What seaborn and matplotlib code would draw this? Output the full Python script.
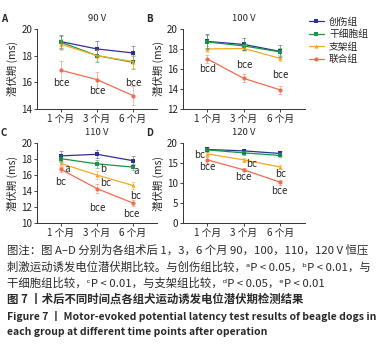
import numpy as np
import pandas as pd
from matplotlib import pyplot as plt
import seaborn as sns

# time points and groups
months = ["1 个月", "3 个月", "6 个月"]
groups = ["创伤组", "干细胞组", "支架组", "联合组"]
colors = ["#2e3192", "#1a9448", "#f7a823", "#f26b4f"]
markers = ["s", "s", "^", "o"]

# mean latency (ms) per panel, one list per group
a_means = [[19.05, 18.5, 18.2], [19.0, 18.0, 17.5], [18.85, 18.0, 17.55], [16.9, 16.2, 15.0]]
a_errs = [[0.5, 0.6, 0.5], [0.5, 0.5, 0.5], [0.4, 0.4, 0.5], [0.7, 0.6, 0.7]]
b_means = [[18.75, 18.45, 17.75], [18.7, 18.3, 17.7], [18.0, 18.05, 17.05], [17.0, 15.05, 13.9]]
b_errs = [[0.7, 0.6, 0.6], [0.7, 0.4, 0.4], [0.3, 0.3, 0.3], [0.4, 0.4, 0.4]]
c_means = [[18.4, 18.6, 17.8], [18.05, 17.4, 17.0], [17.45, 16.0, 14.7], [16.7, 14.3, 12.5]]
c_errs = [[0.6, 0.5, 0.6], [0.4, 0.5, 0.4], [0.3, 0.5, 0.4], [0.3, 0.6, 0.4]]
d_means = [[18.4, 18.05, 17.4], [18.3, 17.55, 16.9], [17.3, 15.8, 14.0], [15.8, 13.3, 10.2]]
d_errs = [[0.5, 0.5, 0.5], [0.5, 0.5, 0.5], [0.5, 0.5, 0.4], [0.7, 0.4, 0.6]]

panel_letters = ["A", "B", "C", "D"]
panel_titles = ["90 V", "100 V", "110 V", "120 V"]
panel_ylims = [(14, 20), (12, 20), (10, 20), (0, 20)]
panel_yticks = [[14, 16, 18, 20], [12, 14, 16, 18, 20], [10, 12, 14, 16, 18, 20], [0, 5, 10, 15, 20]]

# significance letters: (x index, y value, text, horizontal alignment)
a_notes = [(0, 15.95, "bce", "center"), (1, 15.35, "bce", "center"), (2, 15.95, "bce", "center")]
b_notes = [(0, 15.95, "bcd", "center"), (1, 16.35, "bce", "center"), (2, 15.4, "bce", "center")]
c_notes = [(0.08, 16.8, "a", "left"), (1.08, 16.8, "b", "left"), (2.02, 16.5, "a", "left"),
           (0, 15.1, "bc", "center"), (1.08, 15.0, "bc", "left"), (2.08, 13.4, "bc", "center"),
           (1.0, 11.9, "bce", "center"), (1.95, 11.1, "bce", "center")]
d_notes = [(-0.05, 17.0, "bc", "right"), (0, 14.0, "bce", "center"), (1.05, 14.7, "bc", "left"),
           (0.98, 11.5, "bce", "center"), (2.0, 12.2, "bc", "center"), (1.98, 8.0, "bce", "center")]

sns.set_theme(style="ticks")
plt.rcParams["font.family"] = ["Noto Sans CJK SC", "DejaVu Sans"]

fig = plt.figure(figsize=(3.81, 3.49), dpi=100)
boxes = [[0.097, 0.688, 0.315, 0.229], [0.480, 0.688, 0.320, 0.229],
         [0.097, 0.361, 0.315, 0.229], [0.480, 0.361, 0.320, 0.229]]
all_means = [a_means, b_means, c_means, d_means]
all_errs = [a_errs, b_errs, c_errs, d_errs]
all_notes = [a_notes, b_notes, c_notes, d_notes]

for p in range(4):
    ax = fig.add_axes(boxes[p])
    rows = []
    for g, grp in enumerate(groups):
        for i in range(3):
            rows.append({"pos": i, "value": all_means[p][g][i], "group": grp})
    df = pd.DataFrame(rows)
    sns.lineplot(data=df, x="pos", y="value", hue="group", style="group",
                 palette=dict(zip(groups, colors)), markers=dict(zip(groups, markers)),
                 dashes=False, markersize=3, markeredgewidth=0, linewidth=0.9,
                 legend=False, ax=ax)
    for g in range(4):
        ax.errorbar(range(3), all_means[p][g], yerr=all_errs[p][g], fmt="none",
                    ecolor=colors[g], elinewidth=0.6, capsize=1.5, capthick=0.6, alpha=0.55)
    for x, y, t, ha in all_notes[p]:
        ax.text(x, y, t, ha=ha, va="center", fontsize=7, color="#222222")
    ax.set_xlim(-0.67, 2.67)
    ax.set_ylim(*panel_ylims[p])
    ax.set_yticks(panel_yticks[p])
    ax.set_xticks(range(3))
    ax.set_xticklabels(months)
    ax.set_xlabel("")
    ax.set_ylabel("潜伏期 (ms)", fontsize=7.5, labelpad=2)
    ax.tick_params(labelsize=7, length=2, width=0.6, pad=1.5, colors="#222222")
    for s in ["left", "bottom"]:
        ax.spines[s].set_linewidth(0.7)
        ax.spines[s].set_color("#333333")
    sns.despine(ax=ax)
    ax.set_title(panel_titles[p], fontsize=6.8, pad=6)
    ax.text(-0.3, 1.13, panel_letters[p], transform=ax.transAxes, fontsize=7,
            fontweight="bold", ha="left", va="center")
    if p == 1:
        handles = [plt.Line2D([], [], color=colors[g], marker=markers[g], markersize=3,
                              linewidth=0.9, markeredgewidth=0) for g in range(4)]
        ax.legend(handles, groups, loc="upper left", bbox_to_anchor=(1.0, 1.2),
                  frameon=False, fontsize=7, handlelength=1.6, handletextpad=0.5,
                  labelspacing=0.25, borderaxespad=0)

caption = [
    ("图注：图 A–D 分别为各组术后 1，3，6 个月 90，100，110，120 V 恒压", "normal", 8.2),
    ("刺激运动诱发电位潜伏期比较。与创伤组比较，ᵃP < 0.05，ᵇP < 0.01，与", "normal", 8.2),
    ("干细胞组比较，ᶜP < 0.01，与支架组比较，ᵈP < 0.05，ᵉP < 0.01", "normal", 8.2),
    ("图 7 丨术后不同时间点各组犬运动诱发电位潜伏期检测结果", "bold", 8.2),
    ("Figure 7 丨 Motor-evoked potential latency test results of beagle dogs in", "bold", 7.5),
    ("each group at different time points after operation", "bold", 7.5),
]
ys = [250, 267, 283, 299, 316, 332]
for (line, w, fs), y in zip(caption, ys):
    fig.text(7 / 381, 1 - y / 349, line, fontsize=fs, fontweight=w, ha="left",
             va="center", color="#2a2a2a")

fig.savefig("out.png", dpi=100)
